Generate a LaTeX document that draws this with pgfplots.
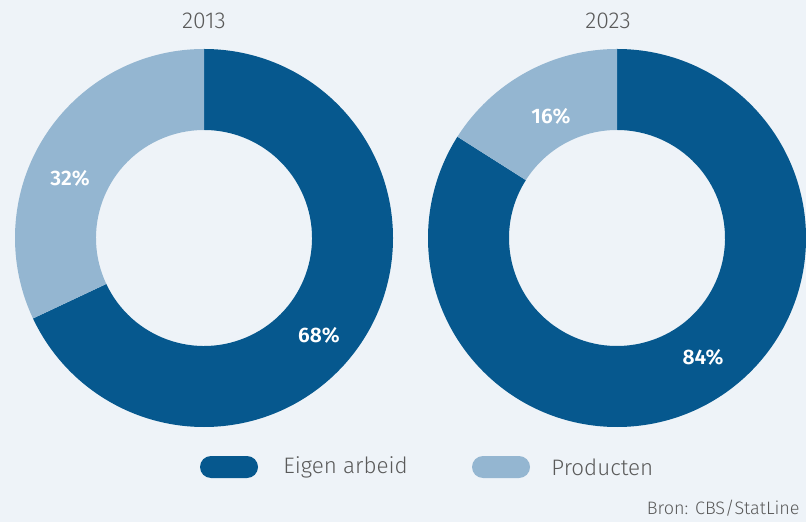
\documentclass[border=0pt]{standalone}
\usepackage{pgfplots}
\pgfplotsset{compat=1.18}
\usepackage{pgfplotstable}
\usepackage{fontspec}
\setmainfont{Fira Sans Light}[BoldFont=Fira Sans SemiBold]
\definecolor{bgc}{HTML}{EEF3F8}
\definecolor{darkb}{HTML}{06588E}
\definecolor{lightb}{HTML}{94B6D1}
\definecolor{txt}{HTML}{5A5A5A}
\pgfplotstableread{
year eigen producten cx
2013 68 32 204
2023 84 16 617
}\donutdata
\newcommand{\donut}[1]{%
  \pgfplotstablegetelem{#1}{eigen}\of\donutdata \edef\valE{\pgfplotsretval}%
  \pgfplotstablegetelem{#1}{cx}\of\donutdata \edef\cx{\pgfplotsretval}%
  \pgfmathsetmacro{\angE}{90-3.6*\valE}%
  \edef\temp{\noexpand\fill[darkb, shift={(axis cs:\cx,238)}] (90:94.5pt) arc[start angle=90, end angle=\angE, radius=94.5pt] -- (\angE:54pt) arc[start angle=\angE, end angle=90, radius=54pt] -- cycle;}\temp
  \edef\temp{\noexpand\fill[lightb, shift={(axis cs:\cx,238)}] (90:94.5pt) arc[start angle=90, end angle=\angE+360, radius=94.5pt] -- (\angE+360:54pt) arc[start angle=\angE+360, end angle=90, radius=54pt] -- cycle;}\temp
}
\begin{document}
\begin{tikzpicture}
\begin{axis}[
  scale only axis, width=403pt, height=261pt,
  xmin=0, xmax=806, ymin=0, ymax=522, y dir=reverse,
  hide axis, clip=false,
]
\fill[bgc] (axis cs:0,0) rectangle (axis cs:806,522);
\donut{0}
\donut{1}
\node[txt, font=\fontsize{11.5}{12}\selectfont] at (axis cs:204,21) {2013};
\node[txt, font=\fontsize{11.5}{12}\selectfont] at (axis cs:608,21) {2023};
\node[white, font=\bfseries\fontsize{10.5}{12}\selectfont] at (axis cs:319,335) {68\%};
\node[white, font=\bfseries\fontsize{10.5}{12}\selectfont] at (axis cs:70,178) {32\%};
\node[white, font=\bfseries\fontsize{10.5}{12}\selectfont] at (axis cs:703,357) {84\%};
\node[white, font=\bfseries\fontsize{10.5}{12}\selectfont] at (axis cs:551,116) {16\%};
\fill[darkb, rounded corners=5.5pt] (axis cs:200,456) rectangle (axis cs:258,478);
\fill[lightb, rounded corners=5.5pt] (axis cs:472,456) rectangle (axis cs:530,478);
\node[txt, anchor=west, inner sep=0pt, font=\fontsize{11.2}{12}\selectfont] at (axis cs:283,467) {Eigen arbeid};
\node[txt, anchor=west, inner sep=0pt, font=\fontsize{11.2}{12}\selectfont] at (axis cs:551,467) {Producten};
\node[txt, anchor=east, inner sep=0pt, font=\fontsize{9}{10}\selectfont] at (axis cs:800,508) {Bron: CBS/StatLine};
\end{axis}
\end{tikzpicture}
\end{document}
